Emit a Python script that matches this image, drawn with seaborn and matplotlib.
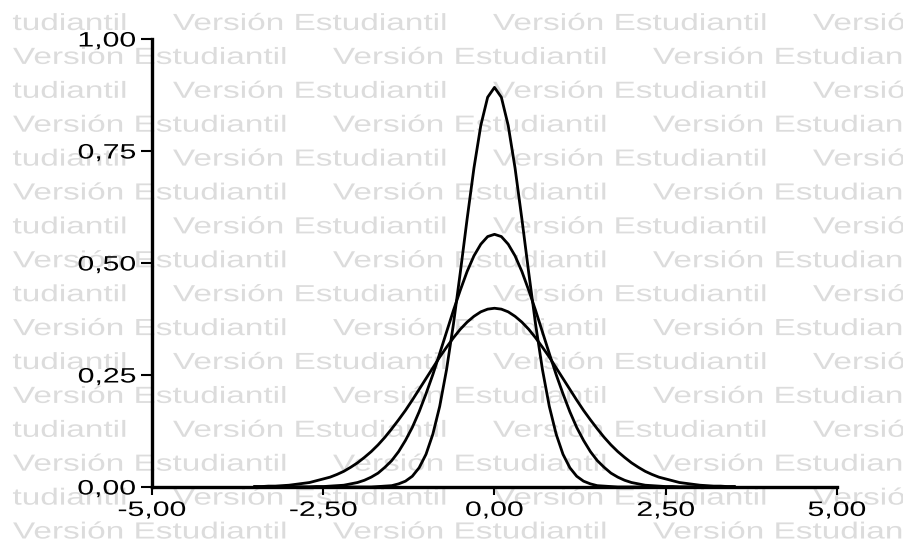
import matplotlib
matplotlib.use("Agg")
import matplotlib.pyplot as plt
import seaborn as sns
import pandas as pd
from matplotlib.patheffects import AbstractPathEffect
from matplotlib.transforms import Affine2D, Bbox

# x grid (step 0.1)
x_vals = [-3.5, -3.4, -3.3, -3.2, -3.1, -3.0, -2.9, -2.8, -2.7, -2.6, -2.5, -2.4,
          -2.3, -2.2, -2.1, -2.0, -1.9, -1.8, -1.7, -1.6, -1.5, -1.4, -1.3, -1.2,
          -1.1, -1.0, -0.9, -0.8, -0.7, -0.6, -0.5, -0.4, -0.3, -0.2, -0.1, 0.0,
          0.1, 0.2, 0.3, 0.4, 0.5, 0.6, 0.7, 0.8, 0.9, 1.0, 1.1, 1.2,
          1.3, 1.4, 1.5, 1.6, 1.7, 1.8, 1.9, 2.0, 2.1, 2.2, 2.3, 2.4,
          2.5, 2.6, 2.7, 2.8, 2.9, 3.0, 3.1, 3.2, 3.3, 3.4, 3.5]

# widest curve (peak ~0.40)
curve_wide = [0.001, 0.001, 0.002, 0.002, 0.003, 0.004, 0.006, 0.008, 0.010, 0.014, 0.018, 0.022,
              0.028, 0.035, 0.044, 0.054, 0.066, 0.079, 0.094, 0.111, 0.130, 0.150, 0.171, 0.194,
              0.218, 0.242, 0.266, 0.290, 0.312, 0.333, 0.352, 0.368, 0.381, 0.391, 0.397, 0.399,
              0.397, 0.391, 0.381, 0.368, 0.352, 0.333, 0.312, 0.290, 0.266, 0.242, 0.218, 0.194,
              0.171, 0.150, 0.130, 0.111, 0.094, 0.079, 0.066, 0.054, 0.044, 0.035, 0.028, 0.022,
              0.018, 0.014, 0.010, 0.008, 0.006, 0.004, 0.003, 0.002, 0.002, 0.001, 0.001]

# middle curve (peak ~0.56)
curve_mid = [0, 0, 0, 0, 0, 0, 0, 0, 0, 0.001, 0.001, 0.002,
             0.003, 0.004, 0.007, 0.010, 0.015, 0.022, 0.031, 0.044, 0.059, 0.079, 0.104, 0.133,
             0.168, 0.208, 0.251, 0.298, 0.346, 0.394, 0.439, 0.481, 0.516, 0.542, 0.559, 0.564,
             0.559, 0.542, 0.516, 0.481, 0.439, 0.394, 0.346, 0.298, 0.251, 0.208, 0.168, 0.133,
             0.104, 0.079, 0.059, 0.044, 0.031, 0.022, 0.015, 0.010, 0.007, 0.004, 0.003, 0.002,
             0.001, 0.001, 0, 0, 0, 0, 0, 0, 0, 0, 0]

# narrow curve (peak ~0.89)
curve_narrow = [0, 0, 0, 0, 0, 0, 0, 0, 0, 0, 0, 0,
                0, 0, 0, 0, 0, 0, 0.001, 0.002, 0.003, 0.007, 0.013, 0.024,
                0.043, 0.073, 0.118, 0.180, 0.262, 0.363, 0.478, 0.598, 0.712, 0.807, 0.870, 0.892,
                0.870, 0.807, 0.712, 0.598, 0.478, 0.363, 0.262, 0.180, 0.118, 0.073, 0.043, 0.024,
                0.013, 0.007, 0.003, 0.002, 0.001, 0, 0, 0, 0, 0, 0, 0,
                0, 0, 0, 0, 0, 0, 0, 0, 0, 0, 0]

x_ticks = [-5, -2.5, 0, 2.5, 5]
x_labels = ["-5,00", "-2,50", "0,00", "2,50", "5,00"]
y_ticks = [0, 0.25, 0.5, 0.75, 1]
y_labels = ["0,00", "0,25", "0,50", "0,75", "1,00"]
watermark = "Versión Estudiantil"


class Stretch(AbstractPathEffect):
    # the original export has horizontally widened text
    def __init__(self, sx, anchor="left"):
        super().__init__()
        self.sx = sx
        self.anchor = anchor

    def draw_path(self, renderer, gc, tpath, affine, rgbFace=None):
        bb = tpath.get_extents(affine)
        x0 = {"left": bb.x0, "right": bb.x1, "center": (bb.x0 + bb.x1) / 2}[self.anchor]
        affine = affine + Affine2D().translate(-x0, 0).scale(self.sx, 1).translate(x0, 0)
        renderer.draw_path(gc, tpath, affine, rgbFace)


plt.rcParams["font.family"] = ["Liberation Sans", "DejaVu Sans"]

n = len(x_vals)
df = pd.DataFrame({
    "x": x_vals * 3,
    "density": curve_wide + curve_mid + curve_narrow,
    "curve": ["wide"] * n + ["mid"] * n + ["narrow"] * n,
})

fig = plt.figure(figsize=(9.04, 5.52), dpi=100)
fig.patch.set_facecolor("white")
ax = fig.add_axes([152 / 904, 1 - 487 / 552, (837 - 152) / 904, (487 - 39) / 552])
ax.set_facecolor("none")

sns.lineplot(data=df, x="x", y="density", hue="curve", palette=["black"] * 3,
             estimator=None, legend=False, linewidth=2, ax=ax)

sns.despine(ax=ax)
ax.set_xlim(-5, 5)
ax.set_ylim(0, 1)
ax.set_xticks(x_ticks, x_labels)
ax.set_yticks(y_ticks, y_labels)
ax.set_xlabel("")
ax.set_ylabel("")
for side in ["left", "bottom"]:
    ax.spines[side].set_linewidth(2.4)
ax.tick_params(axis="x", length=6, width=1.5, pad=4, labelsize=15, colors="black")
ax.tick_params(axis="y", length=8, width=1.5, pad=3.5, labelsize=15, colors="black")
for lab in ax.get_xticklabels():
    lab.set_path_effects([Stretch(1.45, "center")])
for lab in ax.get_yticklabels():
    lab.set_path_effects([Stretch(1.45, "right")])

# tiled watermark behind the chart, cut at a small left margin like the original
clip = Bbox([[12, 0], [904, 552]])
for k in range(16):
    y = 1 - (30 + 33.9 * k) / 552
    start = 173 if k % 2 == 0 else 13
    for m in range(-1, 3):
        t = fig.text((start + 320 * m) / 904, y, watermark, fontsize=16.8, color="#dcdcdc",
                     ha="left", va="baseline", zorder=-1, path_effects=[Stretch(1.43)])
        t.set_clip_box(clip)
        t.set_clip_on(True)

fig.savefig("out.png", dpi=100, facecolor="white")
